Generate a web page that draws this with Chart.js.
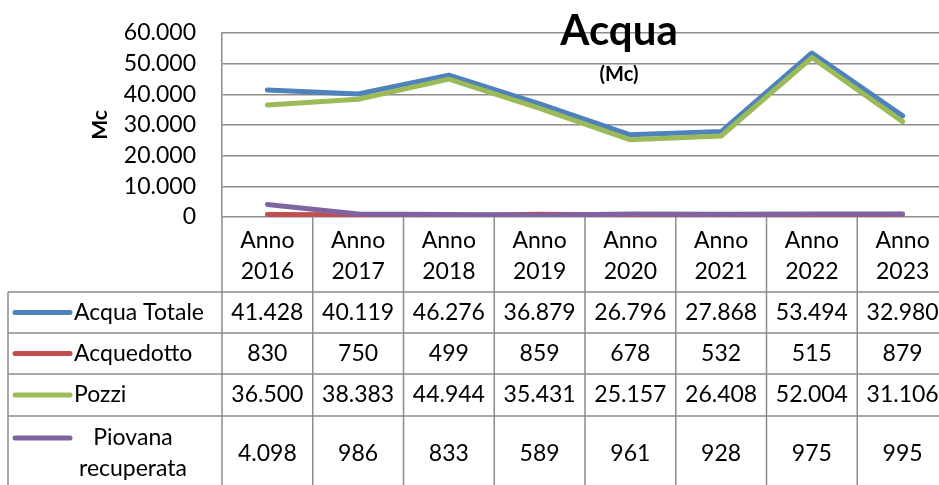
<!DOCTYPE html>
<html>
<head>
<meta charset="utf-8">
<script src="https://cdn.jsdelivr.net/npm/chart.js@4/dist/chart.umd.min.js"></script>
<style>
  html, body { margin: 0; padding: 0; background: #fff; overflow: hidden; }
  #wrap { width: 939px; height: 485px; overflow: hidden; }
</style>
</head>
<body>
<div id="wrap"><canvas id="acqua-chart" width="950" height="485"></canvas></div>
<script>
const anni = ['2016', '2017', '2018', '2019', '2020', '2021', '2022', '2023'];
const acquaTotale = [41428, 40119, 46276, 36879, 26796, 27868, 53494, 32980];
const acquedotto = [830, 750, 499, 859, 678, 532, 515, 879];
const pozzi = [36500, 38383, 44944, 35431, 25157, 26408, 52004, 31106];
const piovana = [4098, 986, 833, 589, 961, 928, 975, 995];

const FONT = 'Lato, "Liberation Sans", sans-serif';
const GRID = '#8c8c8c';

// 41428 -> "41.428"
function fmt(v) {
  return String(v).replace(/\B(?=(\d{3})+(?!\d))/g, '.');
}

const ctx = document.getElementById('acqua-chart').getContext('2d');

// titolo, sottotitolo e titolo asse
const titlePlugin = {
  id: 'titoli',
  afterDraw(chart) {
    const c = chart.ctx;
    c.save();
    c.fillStyle = '#000';
    c.textAlign = 'center';
    c.textBaseline = 'alphabetic';
    c.font = 'bold 42px ' + FONT;
    c.fillText('Acqua', 619, 45);
    c.textBaseline = 'middle';
    c.font = 'bold 20px ' + FONT;
    c.fillText('(Mc)', 619, 75);
    c.translate(100, 125);
    c.rotate(-Math.PI / 2);
    c.font = 'bold 21px ' + FONT;
    c.fillText('Mc', 0, 0);
    c.restore();
  }
};

// tabella dati sotto il grafico
const tablePlugin = {
  id: 'tabellaDati',
  afterDraw(chart) {
    const c = chart.ctx;
    const area = chart.chartArea;
    const x = chart.scales.x;
    const half = (x.getPixelForValue(1) - x.getPixelForValue(0)) / 2;
    const rowH = [41, 41, 42, 75];
    const top = area.bottom + 75;
    const left = 8;
    const right = x.getPixelForValue(anni.length - 1) + half;

    let ys = [top];
    rowH.forEach(h => ys.push(ys[ys.length - 1] + h));
    const bottom = ys[ys.length - 1];

    c.save();
    c.strokeStyle = GRID;
    c.lineWidth = 1.5;
    c.beginPath();
    ys.forEach(y => { c.moveTo(left, y); c.lineTo(right, y); });
    c.moveTo(left, top); c.lineTo(left, bottom);
    c.moveTo(area.left, area.bottom); c.lineTo(area.left, bottom);
    for (let i = 0; i < anni.length; i++) {
      const bx = x.getPixelForValue(i) + half;
      c.moveTo(bx, area.bottom); c.lineTo(bx, bottom);
    }
    c.stroke();

    c.font = '23px ' + FONT;
    c.fillStyle = '#000';
    c.textBaseline = 'middle';
    chart.data.datasets.forEach((ds, r) => {
      const yc = (ys[r] + ys[r + 1]) / 2;
      const label = ds.label;
      let lines = [label];
      if (c.measureText(label).width > 150) lines = label.split(' ');
      const lh = 31;
      const y0 = yc - (lines.length - 1) * lh / 2;

      c.strokeStyle = ds.borderColor;
      c.lineWidth = 5;
      c.lineCap = 'round';
      c.beginPath();
      c.moveTo(15, y0);
      c.lineTo(70, y0);
      c.stroke();

      if (lines.length === 1) {
        c.textAlign = 'left';
        c.fillText(label, 74, yc);
      } else {
        c.textAlign = 'center';
        lines.forEach((t, k) => c.fillText(t, 133, y0 + k * lh));
      }

      c.textAlign = 'center';
      ds.data.forEach((v, i) => {
        c.fillText(fmt(v), x.getPixelForValue(i), yc);
      });
    });
    c.restore();
  }
};

const lineStyle = {
  borderWidth: 5,
  pointRadius: 0,
  tension: 0,
  borderJoinStyle: 'round',
  borderCapStyle: 'round',
  fill: false
};

new Chart(ctx, {
  type: 'line',
  data: {
    labels: anni.map(a => ['Anno', a]),
    datasets: [
      { label: 'Acqua Totale', data: acquaTotale, borderColor: '#4f81bd', order: 4, ...lineStyle },
      { label: 'Acquedotto', data: acquedotto, borderColor: '#c0504d', order: 3, ...lineStyle },
      { label: 'Pozzi', data: pozzi, borderColor: '#9bbb59', order: 2, ...lineStyle },
      { label: 'Piovana recuperata', data: piovana, borderColor: '#8064a2', order: 1, ...lineStyle }
    ]
  },
  options: {
    responsive: false,
    animation: false,
    devicePixelRatio: 1,
    layout: { padding: { left: 0, top: 33, right: 2, bottom: 0 } },
    plugins: {
      legend: { display: false },
      title: { display: false },
      tooltip: { enabled: false }
    },
    scales: {
      x: {
        offset: true,
        grid: { display: false, drawTicks: false },
        border: { display: false },
        ticks: {
          color: '#000',
          padding: 8,
          maxRotation: 0,
          autoSkip: false,
          font: { family: FONT, size: 23, lineHeight: 1.35 }
        },
        afterFit(s) { s.height = 268; }
      },
      y: {
        min: 0,
        max: 60000,
        grid: { color: GRID, lineWidth: 1.5, drawTicks: false },
        border: { display: true, color: GRID, width: 1.5 },
        ticks: {
          stepSize: 10000,
          autoSkip: false,
          color: '#000',
          padding: 26,
          font: { family: FONT, size: 23 },
          callback: v => fmt(v)
        },
        afterFit(s) {
          s.width = 222;
          s.paddingTop = 0;
          s.paddingBottom = 0;
        }
      }
    }
  },
  plugins: [tablePlugin, titlePlugin]
});
</script>
</body>
</html>
